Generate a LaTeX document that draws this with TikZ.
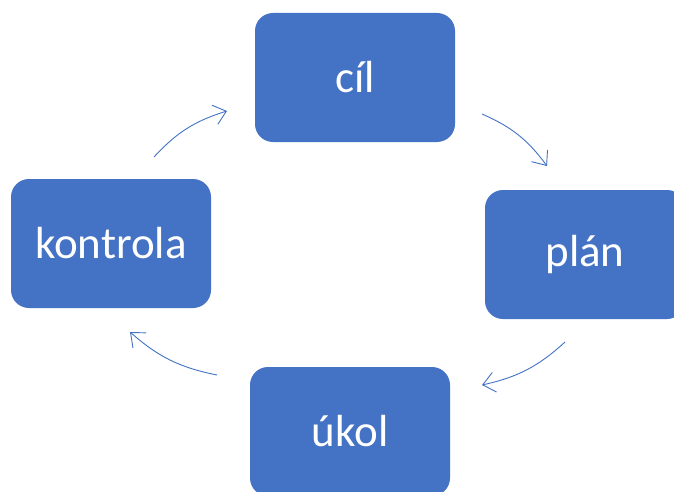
\documentclass[tikz,border=0pt]{standalone}
\usepackage{fontspec}
\setmainfont{Carlito}
\usetikzlibrary{arrows.meta}
\definecolor{officeblue}{HTML}{4472C4}
\begin{document}
\begin{tikzpicture}[x=1pt,y=-1pt,
  stepbox/.style={fill=officeblue,rounded corners=18pt,
    minimum width=200pt,minimum height=129pt,text=white,font=\fontsize{45}{54}\selectfont,inner sep=0pt},
  cyc/.style={draw=officeblue,line width=0.9pt,-{Straight Barb[length=12pt,width=20pt,line width=0.9pt]},bend left=15}]
\useasboundingbox (0,0) rectangle (674,492);
\fill[white] (0,0) rectangle (674,492);
\node[stepbox] (cil) at (355,77.5) {cíl};
\node[stepbox] (plan) at (585,254.5) {plán};
\node[stepbox] (ukol) at (350,431.5) {úkol};
\node[stepbox] (kontrola) at (111,243.5) {kontrola};
\coordinate (a1s) at (154,157);
\coordinate (a1e) at (227,111);
\coordinate (a2s) at (482,114);
\coordinate (a2e) at (547,166);
\coordinate (a3s) at (565,342);
\coordinate (a3e) at (482,385);
\coordinate (a4s) at (217,375);
\coordinate (a4e) at (130,332);
\draw[cyc] (a1s) to (a1e);
\draw[cyc] (a2s) to (a2e);
\draw[cyc] (a3s) to (a3e);
\draw[cyc] (a4s) to (a4e);
\end{tikzpicture}
\end{document}
